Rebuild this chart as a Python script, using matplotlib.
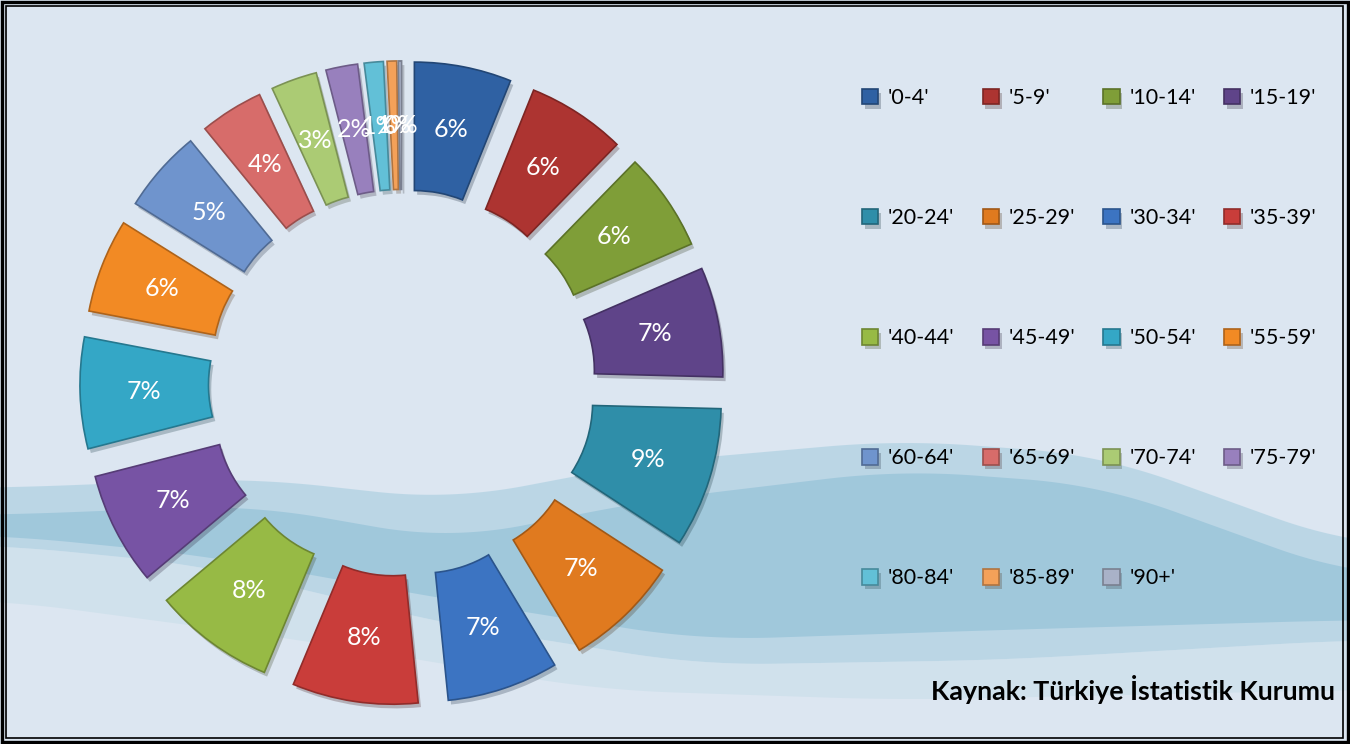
import numpy as np
import matplotlib
matplotlib.use("Agg")
import matplotlib.pyplot as plt
import matplotlib.patheffects as pe
from matplotlib.patches import Rectangle
from matplotlib.colors import to_rgb

# ---------- data ----------
age_groups = ["'0-4'", "'5-9'", "'10-14'", "'15-19'", "'20-24'", "'25-29'",
              "'30-34'", "'35-39'", "'40-44'", "'45-49'", "'50-54'", "'55-59'",
              "'60-64'", "'65-69'", "'70-74'", "'75-79'", "'80-84'", "'85-89'",
              "'90+'"]
shares = [6.1, 6.2, 6.2, 6.9, 8.8, 7.2, 7.0, 7.9, 7.6, 7.1, 7.0, 5.9,
          5.2, 4.0, 2.9, 2.0, 1.2, 0.6, 0.2]
colors = ['#2f61a3', '#ad3431', '#7f9e38', '#5f4489', '#2f8ea9', '#e07a1f',
          '#3c74c2', '#c93d3a', '#97ba45', '#7753a4', '#34a7c6', '#f28a24',
          '#6f94cd', '#d76c6a', '#abcb74', '#9880bd', '#62c0d7', '#f4a159',
          '#a9b2c8']
source_note = "Kaynak: Türkiye İstatistik Kurumu"

plt.rcParams['font.family'] = ['Lato', 'DejaVu Sans']

W, H = 1350, 744
fig = plt.figure(figsize=(W / 100, H / 100), dpi=100)
fig.patch.set_facecolor('#dce6f1')

# ---------- background (waves + double frame) ----------
bg = fig.add_axes([0, 0, 1, 1])
bg.set_xlim(0, W)
bg.set_ylim(H, 0)
bg.axis('off')


def smooth_curve(xc, yc, win=150):
    xs = np.linspace(0, W, 1351)
    ys = np.interp(xs, xc, yc)
    pad = np.concatenate([np.full(win, ys[0]), ys, np.full(win, ys[-1])])
    ys = np.convolve(pad, np.ones(win) / win, mode='same')[win:-win]
    return xs, ys


xs, top1 = smooth_curve([0, 250, 450, 650, 900, 1100, 1350],
                        [488, 478, 500, 462, 440, 455, 545])
_, bot1 = smooth_curve([0, 200, 450, 700, 1000, 1350],
                       [545, 565, 625, 665, 660, 640])
bg.fill_between(xs, top1, bot1, color='#9cc8db', alpha=0.5, lw=0)
_, top2 = smooth_curve([0, 250, 450, 650, 900, 1100, 1350],
                       [515, 505, 540, 500, 470, 485, 575])
_, bot2 = smooth_curve([0, 200, 450, 700, 1000, 1350],
                       [535, 555, 600, 640, 630, 620])
bg.fill_between(xs, top2, bot2, color='#62a8c7', alpha=0.3, lw=0)
_, bot3 = smooth_curve([0, 300, 600, 900, 1350],
                       [600, 640, 690, 700, 690])
bg.fill_between(xs, bot1, bot3, color='#c2dbe7', alpha=0.45, lw=0)

bg.add_patch(Rectangle((1.5, 1.5), W - 4, H - 3.5, fill=False,
                       ec='black', lw=2.4))
bg.add_patch(Rectangle((6, 5.5), W - 13, H - 11.5, fill=False,
                       ec='black', lw=1.2))

# ---------- doughnut ----------
ax = fig.add_axes([0, 0, 804 / W, 1])
ax.patch.set_alpha(0)
edge_cols = [tuple(c * 0.72 for c in to_rgb(col)) for col in colors]
wedges, _, pct_texts = ax.pie(
    shares, colors=colors, startangle=90, counterclock=False,
    explode=[0.253] * len(shares), radius=1, pctdistance=0.75,
    autopct='%1.0f%%', wedgeprops=dict(width=0.5, linewidth=1.2),
    textprops=dict(color='white', fontsize=18))
for w, ec in zip(wedges, edge_cols):
    w.set_edgecolor(ec)
    w.set_path_effects([pe.SimplePatchShadow(offset=(2, -3), alpha=0.25),
                        pe.Normal()])
ax.set_aspect('auto')
ax.set_xlim(-1.564, 1.564)
ax.set_ylim(-1.405, 1.490)
ax.axis('off')

# ---------- legend (row-major order) ----------
ncol = 4
order = [i for c in range(ncol) for i in range(c, len(age_groups), ncol)]
fig.legend([wedges[i] for i in order], [age_groups[i] for i in order],
           ncol=ncol, loc='upper left',
           bbox_to_anchor=(862 / W, 1 - 88 / H), frameon=False,
           fontsize=15.5, borderpad=0, borderaxespad=0,
           handlelength=0.75, handleheight=0.75, handletextpad=0.45,
           labelspacing=4.65, columnspacing=1.31)

fig.text(1335 / W, 1 - 690 / H, source_note, ha='right', va='center',
         fontsize=19.3, fontweight='bold', color='black')

fig.savefig('out.png', dpi=100, facecolor=fig.get_facecolor())
